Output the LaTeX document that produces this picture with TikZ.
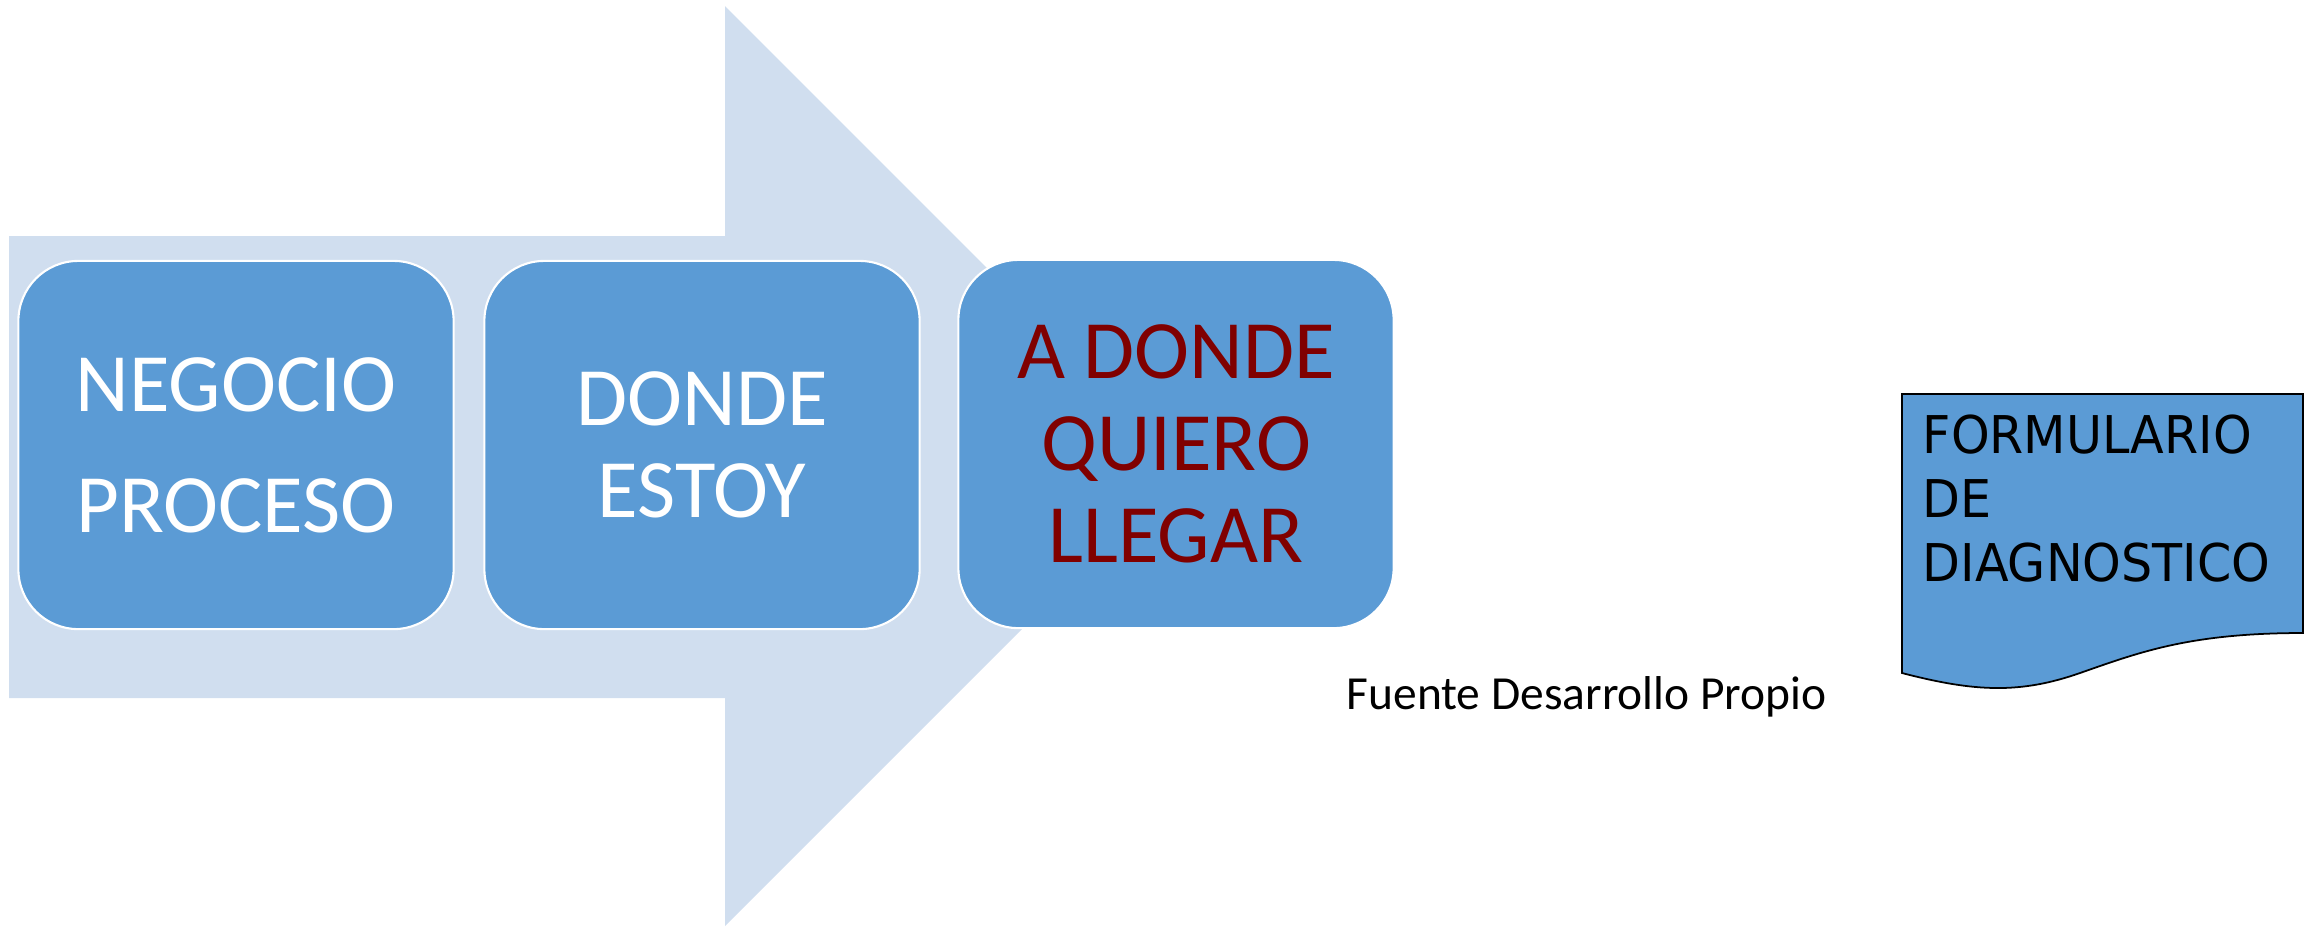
\documentclass[tikz,border=0pt]{standalone}
\usepackage{fontspec}
\setmainfont{Carlito}
\newfontfamily\formfont[FakeStretch=0.945]{DejaVu Sans}
\definecolor{pasoazul}{HTML}{5B9BD5}
\definecolor{flechaazul}{HTML}{D0DEEF}
\definecolor{rojooscuro}{RGB}{128,0,0}
\tikzset{
    pasobox/.style = {draw=white, line width=0.6pt, fill=pasoazul, rounded corners=0.6cm,
        minimum width=4.35cm, minimum height=3.68cm, inner sep=0pt, align=center}
}
\begin{document}
\begin{tikzpicture}[x=0.01cm, y=-0.01cm, color = {black}]
    \useasboundingbox (0,0) rectangle (2315,926);
    \fill[flechaazul] (9,236) -- (725,236) -- (725,6) -- (1185,466) -- (725,926) -- (725,698) -- (9,698) -- cycle;
    \node[pasobox, text=white, font=\fontsize{23.6}{34.4}\selectfont] (negocio) at (236,445) {NEGOCIO\\PROCESO};
    \node[pasobox, text=white, font=\fontsize{23.6}{26.2}\selectfont] (estoy) at (702,445) {DONDE\\ESTOY};
    \node[pasobox, text=rojooscuro, font=\fontsize{23.6}{26.2}\selectfont] (llegar) at (1176,444) {A DONDE\\QUIERO\\LLEGAR};
    \node[anchor=base west, inner sep=0pt, font=\fontsize{13.5}{15}\selectfont] (fuente) at (1346,709) {Fuente Desarrollo Propio};
    \draw[black, line width=0.5pt, fill=pasoazul] (1902,394) -- (2303,394) -- (2303,633)
        .. controls (2190,633) and (2140,652) .. (2080,673)
        .. controls (2020,694) and (1975,692) .. (1902,673) -- cycle;
    \node[anchor=north west, inner sep=0pt, align=left, font=\formfont\fontsize{14.8}{18.2}\selectfont] (formulario) at (1922,414) {FORMULARIO\\DE\\DIAGNOSTICO};
\end{tikzpicture}
\end{document}
